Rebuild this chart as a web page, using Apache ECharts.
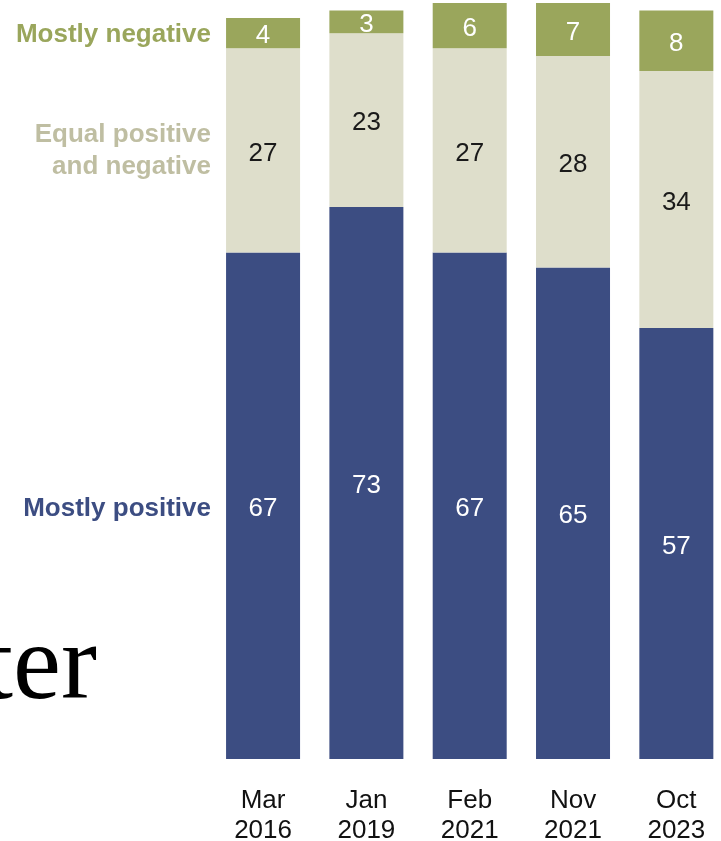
<!DOCTYPE html>
<html>
<head>
<meta charset="utf-8">
<script src="https://cdn.jsdelivr.net/npm/echarts@6/dist/echarts.min.js"></script>
<style>
html,body{margin:0;padding:0;background:#fff;}
#chart{width:721px;height:841px;}
</style>
</head>
<body>
<div id="chart"></div>
<script>
const categories = ['Mar\n2016', 'Jan\n2019', 'Feb\n2021', 'Nov\n2021', 'Oct\n2023'];
const mostlyPositive = [67, 73, 67, 65, 57];
const equalPosNeg = [27, 23, 27, 28, 34];
const mostlyNegative = [4, 3, 6, 7, 8];

const BLUE = '#3c4d82', LIGHT = '#dedecb', GREEN = '#9aa65c';
const FONT = '"Liberation Sans", Arial, sans-serif';

const chart = echarts.init(document.getElementById('chart'), null, {renderer: 'canvas'});

function seriesOf(name, data, color, labelColor) {
  return {
    name: name, type: 'bar', stack: 'all', data: data, barWidth: 74,
    itemStyle: {color: color},
    label: {show: true, position: 'inside', offset: [0, 3], color: labelColor, fontSize: 26, fontFamily: FONT},
    emphasis: {disabled: true}
  };
}

chart.setOption({
  animation: false,
  grid: {left: 211.4, right: -7, top: 3, height: 756, outerBoundsMode: 'none', containLabel: false},
  xAxis: {
    type: 'category', data: categories,
    axisLine: {show: false}, axisTick: {show: false},
    axisLabel: {fontSize: 26, color: '#111', fontFamily: FONT, lineHeight: 30, margin: 27, interval: 0}
  },
  yAxis: {type: 'value', min: 0, max: 100, show: false},
  series: [
    seriesOf('Mostly positive', mostlyPositive, BLUE, '#fff'),
    seriesOf('Equal positive and negative', equalPosNeg, LIGHT, '#1a1a1a'),
    seriesOf('Mostly negative', mostlyNegative, GREEN, '#fff')
  ],
  graphic: [
    {type: 'text', right: 510, top: 22, style: {text: 'Mostly negative', fill: GREEN, font: 'bold 26px ' + FONT, textAlign: 'right'}},
    {type: 'text', right: 510, top: 119, style: {text: 'Equal positive\nand negative', fill: '#bfbea2', font: 'bold 26px ' + FONT, lineHeight: 32, textAlign: 'right'}},
    {type: 'text', right: 510, top: 496, style: {text: 'Mostly positive', fill: BLUE, font: 'bold 26px ' + FONT, textAlign: 'right'}},
    {type: 'text', left: -17, top: 616, style: {text: 'ter', fill: '#000', font: '108px "Liberation Serif", "Times New Roman", serif'}}
  ]
});
</script>
</body>
</html>
